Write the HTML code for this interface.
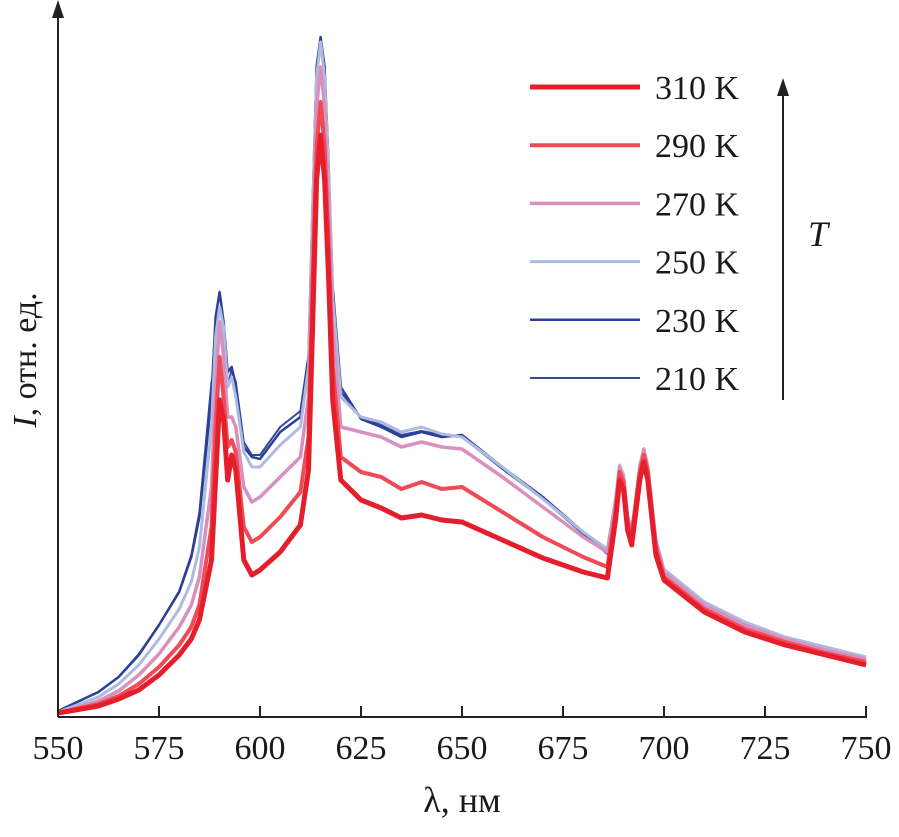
<!DOCTYPE html>
<html><head><meta charset="utf-8"><style>
body{margin:0;background:#fff}
svg text{font-family:"Liberation Serif",serif;fill:#1a1a1a}
</style></head><body>
<svg id="chart" width="899" height="832" viewBox="0 0 899 832">
<g id="series"></g>
<line x1="58" y1="717" x2="867" y2="717" stroke="#222" stroke-width="2"/>
<line x1="58" y1="717" x2="58" y2="12" stroke="#222" stroke-width="2"/>
<polygon points="58,0 52,18 64,18" fill="#222"/>
<g id="ticks"></g>
<text x="462" y="812" font-size="36" text-anchor="middle">λ, нм</text>
<text transform="translate(36,360) rotate(-90)" font-size="34" text-anchor="middle"><tspan font-style="italic">I</tspan>, отн. ед.</text>
<g id="legend"></g>
<line x1="783" y1="400" x2="783" y2="92" stroke="#222" stroke-width="2"/>
<polygon points="783,78 777,96 789,96" fill="#222"/>
<text x="808" y="246" font-size="36" font-style="italic">T</text>
</svg>
<script>
const wl=[550,560,565,570,575,580,583,585,588,589,590,591,592,593,594,596,598,600,605,610,612,613,614,615,616,617,618,620,625,630,635,640,645,650,660,670,680,686,688,689,690,691,692,694,695,696,698,700,710,720,730,740,750];
const s310=[4,11,18,27,42,62,78,97,157,237,317,297,237,262,247,157,142,147,165,192,247,387,537,582,537,437,317,237,217,209,199,202,197,195,177,159,145,139,197,237,227,187,172,237,255,237,162,137,105,85,72,62,52];
const s290=[4,13,21,33,50,72,90,112,190,290,360,320,270,277,265,190,175,180,200,225,280,430,570,615,570,470,350,260,245,240,228,235,228,230,205,180,160,150,205,245,235,195,180,245,262,245,170,140,108,88,75,64,55];
const s270=[4,16,26,42,63,90,112,140,230,330,395,360,300,300,290,230,215,220,240,260,320,470,610,650,610,510,390,290,285,280,270,275,270,268,240,210,180,165,215,250,240,200,185,250,268,250,175,145,112,92,78,67,58];
const s250=[5,20,33,52,78,108,135,170,290,380,410,390,330,340,320,265,250,250,272,290,350,500,640,675,640,540,420,320,300,295,285,290,283,280,250,218,185,168,218,252,242,202,187,252,268,252,178,148,115,95,80,70,60];
const s230=[6,25,40,62,92,125,160,200,320,400,425,395,345,350,330,270,260,258,285,300,360,510,650,680,650,550,430,330,298,290,280,285,280,282,250,220,185,165,215,250,240,200,185,250,266,250,176,146,113,93,78,68,58];
const s210=[6,25,40,63,92,126,162,205,335,350,345,335,330,348,335,275,262,262,290,306,362,512,652,678,650,550,430,325,300,292,282,286,282,280,248,218,183,163,214,248,238,198,183,248,264,248,175,145,112,92,77,67,57];
const seriesNames=["210 K","230 K","250 K","270 K","290 K","310 K"];
const seriesData=[s210,s230,s250,s270,s290,s310];
const colors=["#34479e","#2b3f98","#aebbe0","#d890bf","#ef4a55","#e41e2b"];
const widths=[2,2.5,3,3.5,4,5];
const xTicks=[550,575,600,625,650,675,700,725,750];
const NS="http://www.w3.org/2000/svg";
const x=v=>58+(v-550)*(808/200);
const y=v=>717-v;
const g=document.getElementById('series');
seriesData.forEach((d,i)=>{
 const p=document.createElementNS(NS,'polyline');
 p.setAttribute('points',d.map((v,j)=>x(wl[j]).toFixed(1)+','+y(v).toFixed(1)).join(' '));
 p.setAttribute('fill','none');p.setAttribute('stroke',colors[i]);
 p.setAttribute('stroke-width',widths[i]);p.setAttribute('stroke-linejoin','round');
 
 
 g.appendChild(p);
});
const t=document.getElementById('ticks');
xTicks.forEach(v=>{
 const l=document.createElementNS(NS,'line');
 l.setAttribute('x1',x(v));l.setAttribute('x2',x(v));l.setAttribute('y1',717);l.setAttribute('y2',706);
 l.setAttribute('stroke','#222');l.setAttribute('stroke-width',2);
 
 
 t.appendChild(l);
 const tx=document.createElementNS(NS,'text');
 tx.setAttribute('x',x(v));tx.setAttribute('y',759);tx.setAttribute('font-size',34);tx.setAttribute('text-anchor','middle');
 tx.textContent=v;
 
 
 t.appendChild(tx);
});
const lg=document.getElementById('legend');
for(let k=0;k<6;k++){
 const i=5-k, yy=87+k*58.2;
 const l=document.createElementNS(NS,'line');
 l.setAttribute('x1',530);l.setAttribute('x2',640);l.setAttribute('y1',yy);l.setAttribute('y2',yy);
 l.setAttribute('stroke',colors[i]);l.setAttribute('stroke-width',widths[i]);
 
 
 lg.appendChild(l);
 const tx=document.createElementNS(NS,'text');
 tx.setAttribute('x',655);tx.setAttribute('y',yy+12);tx.setAttribute('font-size',34);
 tx.textContent=seriesNames[i];
 
 
 lg.appendChild(tx);
}
</script>
</body></html>
